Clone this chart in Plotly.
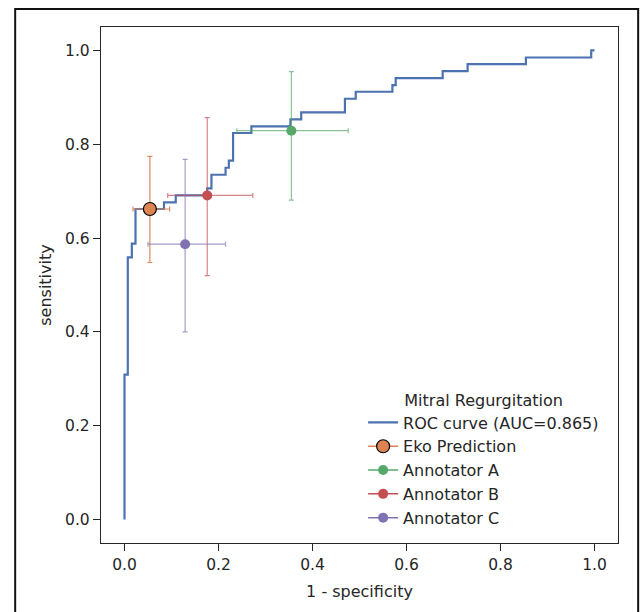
import plotly.graph_objects as go

# ROC curve corner points (1 - specificity, sensitivity)
roc_fpr = [0.0, 0.0, 0.007, 0.0156, 0.0234, 0.084, 0.109, 0.176, 0.185, 0.215, 0.222,
           0.231, 0.270, 0.353, 0.376, 0.469, 0.492, 0.570, 0.577, 0.677, 0.730,
           0.854, 0.993, 1.0]
roc_tpr = [0.0, 0.309, 0.559, 0.588, 0.662, 0.676, 0.691, 0.706, 0.735, 0.750, 0.765,
           0.824, 0.838, 0.853, 0.868, 0.897, 0.912, 0.926, 0.941, 0.956, 0.971,
           0.985, 1.0, 1.0]
roc_label = "ROC curve (AUC=0.865)"

# Operating points
point_names = ["Eko Prediction", "Annotator A", "Annotator B", "Annotator C"]
point_fpr = [0.054, 0.355, 0.176, 0.129]
point_tpr = [0.662, 0.829, 0.691, 0.587]
fpr_lo = [0.018, 0.239, 0.092, 0.050]
fpr_hi = [0.096, 0.476, 0.273, 0.215]
tpr_lo = [0.548, 0.681, 0.520, 0.400]
tpr_hi = [0.774, 0.955, 0.857, 0.768]
point_colors = ["#DD8452", "#55A868", "#C44E52", "#8172B3"]
err_colors = ["rgba(221,132,82,0.95)", "rgba(85,168,104,0.7)", "rgba(196,78,82,0.7)", "rgba(129,114,179,0.7)"]
marker_sizes = [13, 10, 10, 10]
marker_lines = [1.2, 0, 0, 0]

x_ticks = [0.0, 0.2, 0.4, 0.6, 0.8, 1.0]
y_ticks = [0.0, 0.2, 0.4, 0.6, 0.8, 1.0]

FONT = "DejaVu Sans"
DARK = "#262626"

fig = go.Figure()
fig.add_trace(go.Scatter(
    x=roc_fpr, y=roc_tpr, mode="lines", name=roc_label,
    line=dict(color="#4C72B0", width=2.2, shape="hv"),
))

for i, name in enumerate(point_names):
    fig.add_trace(go.Scatter(
        x=[point_fpr[i]], y=[point_tpr[i]], mode="lines+markers", name=name,
        line=dict(color=point_colors[i], width=1.5),
        marker=dict(color=point_colors[i], size=marker_sizes[i],
                    line=dict(color="black", width=marker_lines[i])),
        error_x=dict(type="data", symmetric=False,
                     array=[fpr_hi[i] - point_fpr[i]],
                     arrayminus=[point_fpr[i] - fpr_lo[i]],
                     color=err_colors[i], thickness=1.2, width=2.5),
        error_y=dict(type="data", symmetric=False,
                     array=[tpr_hi[i] - point_tpr[i]],
                     arrayminus=[point_tpr[i] - tpr_lo[i]],
                     color=err_colors[i], thickness=1.2, width=2.5),
    ))

axis_common = dict(
    range=[-0.05, 1.05], showgrid=False, zeroline=False,
    showline=True, mirror=True, linecolor=DARK, linewidth=1.4,
    ticks="outside", ticklen=7, tickwidth=1.3, tickcolor=DARK,
    tickformat=".1f", tickfont=dict(family=FONT, size=15.5, color=DARK),
)
fig.update_xaxes(**axis_common, tickvals=x_ticks,
                 title=dict(text="1 - specificity", font=dict(family=FONT, size=16, color=DARK), standoff=13))
fig.update_yaxes(**axis_common, tickvals=y_ticks,
                 title=dict(text="sensitivity", font=dict(family=FONT, size=16, color=DARK), standoff=9))

fig.update_layout(
    width=640, height=612,
    margin=dict(l=101, r=22, t=27, b=69),
    plot_bgcolor="white", paper_bgcolor="white",
    font=dict(family=FONT, color=DARK),
    legend=dict(
        title=dict(text="Mitral Regurgitation", side="top center",
                   font=dict(family=FONT, size=16, color=DARK)),
        font=dict(family=FONT, size=16, color=DARK),
        x=0.507, xanchor="left", y=0.016, yanchor="bottom",
        bgcolor="rgba(255,255,255,0)", borderwidth=0,
    ),
    shapes=[dict(type="rect", xref="paper", yref="paper",
                 x0=-0.166, x1=1.039, y0=-0.2, y1=1.035,
                 line=dict(color="#111111", width=2), fillcolor="rgba(0,0,0,0)",
                 layer="below")],
)

fig.write_html("out.html", config={"displayModeBar": False},
               post_script="document.body.style.margin='0';document.body.style.overflow='hidden';")
